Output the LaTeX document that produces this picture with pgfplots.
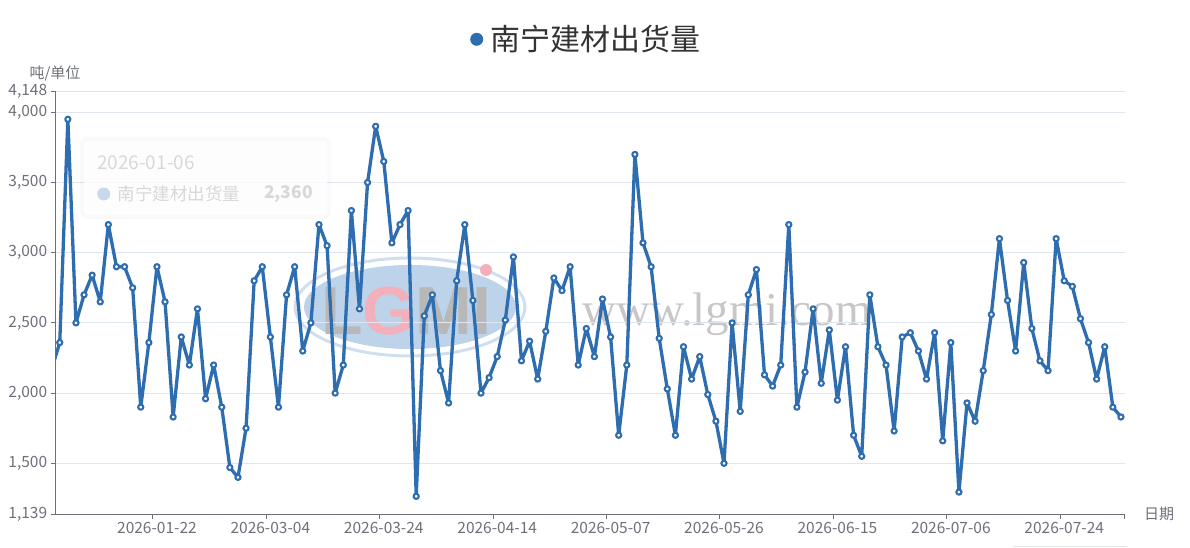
\documentclass[border=0pt]{standalone}
\usepackage{pgfplots}
\pgfplotsset{compat=1.18}
\usepackage{fontspec}
\setmainfont{Noto Sans CJK SC}
\newfontfamily\wmserif{Liberation Serif}
\newfontfamily\wmsans{Liberation Sans}
\definecolor{lineblue}{HTML}{2E6DAF}
\definecolor{axisgray}{HTML}{6E7079}
\definecolor{gridc}{HTML}{E0E6F1}
\definecolor{titlec}{HTML}{333333}
\definecolor{tipgray}{HTML}{D8D8D8}
\definecolor{tipdot}{HTML}{C9D8EC}
\definecolor{wmblue}{HTML}{BCD3EA}
\definecolor{wmring}{HTML}{CFDFF0}
\definecolor{wmgray}{HTML}{B8B8B8}
\definecolor{wmpink}{HTML}{F4B0BA}
\begin{document}
\begin{tikzpicture}
\useasboundingbox (-55.7pt,-33pt) rectangle (1134.3pt,514pt);
% watermark (under the axis)
\begin{scope}[shift={(-55.7pt,514pt)},x=1pt,y=-1pt]
  \draw[wmring, line width=3pt] (410,307) ellipse [x radius=115, y radius=49];
  \fill[wmblue] (410,307) ellipse [x radius=106, y radius=42];
  \node[anchor=base west, inner sep=0, text=wmgray, font=\wmsans\bfseries\fontsize{68}{72}\selectfont] at (321,334) {L\textcolor{wmpink}{G}MI};
  \fill[wmpink] (486,270) circle [radius=6];
  \node[anchor=base west, inner sep=0, text=black, opacity=0.22, font=\wmserif\fontsize{47}{50}\selectfont] at (582,325) {www.lgmi.com};
\end{scope}
\begin{axis}[
  at={(0,0)}, anchor=south west,
  scale only axis, width=1069.3pt, height=422.5pt,
  xmin=-0.5, xmax=131.5, ymin=1139, ymax=4148,
  axis x line*=bottom, axis y line*=left,
  axis line style={axisgray, line width=1pt},
  xtick={11.5,25.5,39.5,53.5,67.5,81.5,95.5,109.5,123.5,131.5},
  xticklabels={2026-01-22,2026-03-04,2026-03-24,2026-04-14,2026-05-07,2026-05-26,2026-06-15,2026-07-06,2026-07-24,{}},
  xticklabel style={xshift=4.05pt, font=\fontsize{15.5}{18}\selectfont, text=axisgray},
  ytick={1139,1500,2000,2500,3000,3500,4000,4148},
  yticklabels={{1,139},{1,500},{2,000},{2,500},{3,000},{3,500},{4,000},{4,148}},
  yticklabel style={font=\fontsize{15.5}{18}\selectfont, text=axisgray},
  tick align=outside, major tick length=5pt,
  tick style={axisgray, line width=1pt},
  ymajorgrids, grid style={gridc, line width=1pt},
]
\addplot[color=lineblue, line width=3.3pt, line join=round,
  mark=*, mark size=2.6pt, mark options={fill=white, draw=lineblue, line width=2.1pt}]
coordinates {
(-1,2170)(0,2360)(1,3950)(2,2500)(3,2700)(4,2840)(5,2650)(6,3200)(7,2900)(8,2900)(9,2750)
(10,1900)(11,2360)(12,2900)(13,2650)(14,1830)(15,2400)(16,2200)(17,2600)(18,1960)(19,2200)
(20,1900)(21,1470)(22,1400)(23,1750)(24,2800)(25,2900)(26,2400)(27,1900)(28,2700)(29,2900)
(30,2300)(31,2500)(32,3200)(33,3050)(34,2000)(35,2200)(36,3300)(37,2600)(38,3500)(39,3900)
(40,3650)(41,3070)(42,3200)(43,3300)(44,1265)(45,2550)(46,2700)(47,2160)(48,1930)(49,2800)
(50,3200)(51,2660)(52,2000)(53,2110)(54,2260)(55,2520)(56,2970)(57,2230)(58,2370)(59,2100)
(60,2440)(61,2820)(62,2730)(63,2900)(64,2200)(65,2460)(66,2260)(67,2670)(68,2400)(69,1700)
(70,2200)(71,3700)(72,3070)(73,2900)(74,2390)(75,2030)(76,1700)(77,2330)(78,2100)(79,2260)
(80,1990)(81,1800)(82,1500)(83,2500)(84,1870)(85,2700)(86,2880)(87,2130)(88,2050)(89,2200)
(90,3200)(91,1900)(92,2150)(93,2600)(94,2070)(95,2450)(96,1950)(97,2330)(98,1700)(99,1550)
(100,2700)(101,2330)(102,2200)(103,1730)(104,2400)(105,2430)(106,2300)(107,2100)(108,2430)(109,1660)
(110,2360)(111,1295)(112,1930)(113,1800)(114,2160)(115,2560)(116,3100)(117,2660)(118,2300)(119,2930)
(120,2460)(121,2230)(122,2160)(123,3100)(124,2800)(125,2760)(126,2530)(127,2360)(128,2100)(129,2330)
(130,1900)(131,1830)
};
\end{axis}
\begin{scope}[shift={(-55.7pt,514pt)},x=1pt,y=-1pt]
  % title
  \fill[lineblue] (476.7,39.3) circle [radius=6.5];
  \node[anchor=west, inner sep=0, text=titlec, font=\fontsize{30}{34}\selectfont] at (490.5,39.3) {南宁建材出货量};
  % axis names
  \node[inner sep=0, text=axisgray, font=\fontsize{15}{18}\selectfont] at (55,73) {吨/单位};
  \node[anchor=west, inner sep=0, text=axisgray, font=\fontsize{15}{18}\selectfont] at (1144,513.5) {日期};
  % tooltip (fading)
  \fill[black, opacity=0.025, rounded corners=7pt] (80,137) rectangle (331,219);
  \fill[white, opacity=0.8, rounded corners=4pt] (84,141) rectangle (327,215);
  \node[anchor=west, inner sep=0, text=tipgray, font=\fontsize{19}{22}\selectfont] at (97,163) {2026-01-06};
  \fill[tipdot] (103.7,194) circle [radius=6.5];
  \node[anchor=west, inner sep=0, text=tipgray, font=\fontsize{17.5}{20}\selectfont] at (117.5,194) {南宁建材出货量};
  \node[anchor=east, inner sep=0, text=tipgray, font=\bfseries\fontsize{17.5}{20}\selectfont] at (313,194) {2,360};
  % faint line bottom right
  \draw[gridc, line width=1pt] (1012.7,546) -- (1126.7,546);
\end{scope}
\end{tikzpicture}
\end{document}
